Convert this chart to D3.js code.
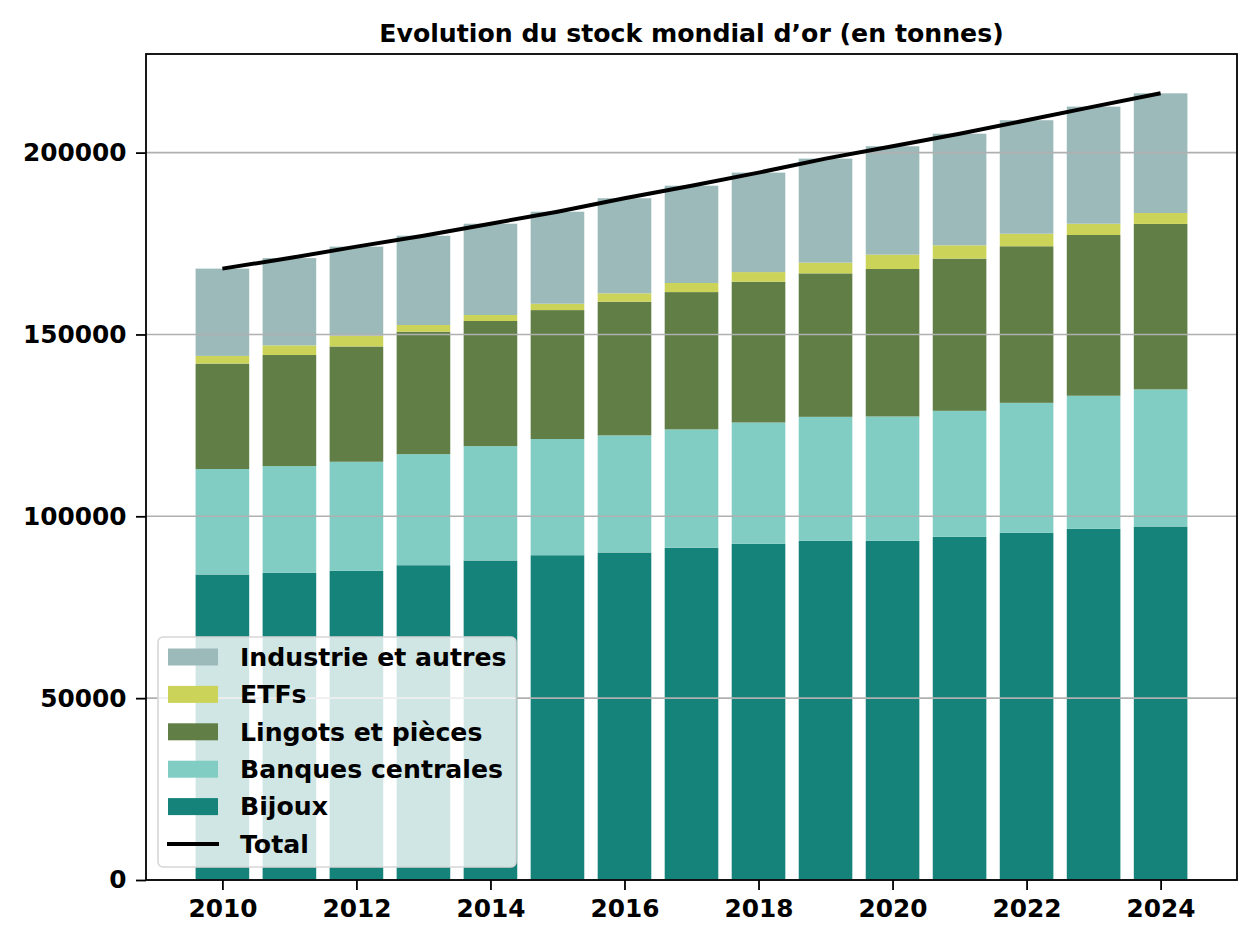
<!DOCTYPE html>
<html>
<head>
<meta charset="utf-8">
<script src="https://cdn.jsdelivr.net/npm/d3@7"></script>
<style>
  body { margin: 0; background: #fff; }
  text { font-family: "DejaVu Sans", sans-serif; font-weight: bold; }
</style>
</head>
<body>
<div id="chart"></div>
<script>
// Data (tonnes)
const years = [2010, 2011, 2012, 2013, 2014, 2015, 2016, 2017, 2018, 2019, 2020, 2021, 2022, 2023, 2024];
const bijoux = [84000, 84450, 85000, 86550, 87850, 89300, 90050, 91350, 92450, 93250, 93250, 94350, 95450, 96550, 97200];
const banques = [29000, 29350, 30000, 30550, 31450, 31950, 32200, 32550, 33350, 34100, 34200, 34650, 35750, 36600, 37700];
const lingots = [29000, 30550, 31700, 33650, 34400, 35450, 36750, 37750, 38700, 39450, 40550, 41850, 43050, 44200, 45500];
const etfs = [2100, 2650, 2950, 1850, 1650, 1750, 2300, 2500, 2650, 2950, 3950, 3650, 3450, 3100, 3000];
const industrie = [24000, 24000, 24500, 24550, 25100, 25300, 26150, 26750, 27350, 28600, 29800, 30700, 31200, 32200, 32900];
const seriesNames = ["Bijoux", "Banques centrales", "Lingots et pièces", "ETFs", "Industrie et autres"];
const seriesColors = ["#16837a", "#82cdc3", "#607e46", "#cbd459", "#9dbaba"];
const yTicks = [0, 50000, 100000, 150000, 200000];

const width = 1260, height = 945;
const marginTop = 54, marginRight = 23, marginBottom = 65, marginLeft = 146;

const table = years.map((y, i) => ({
  year: y,
  "Bijoux": bijoux[i],
  "Banques centrales": banques[i],
  "Lingots et pièces": lingots[i],
  "ETFs": etfs[i],
  "Industrie et autres": industrie[i]
}));
const totals = table.map(d => seriesNames.reduce((s, k) => s + d[k], 0));

const stack = d3.stack().keys(seriesNames)(table);

const barW = 0.8;
const span = (years[years.length - 1] + barW / 2) - (years[0] - barW / 2);
const x = d3.scaleLinear()
  .domain([years[0] - barW / 2 - 0.05 * span, years[years.length - 1] + barW / 2 + 0.05 * span])
  .range([marginLeft, width - marginRight]);
const y = d3.scaleLinear()
  .domain([0, d3.max(totals) * 1.05])
  .range([height - marginBottom, marginTop]);

const svg = d3.select("#chart").append("svg")
  .attr("width", width)
  .attr("height", height);

// bars
const color = d3.scaleOrdinal(seriesNames, seriesColors);
svg.append("g").selectAll("g")
  .data(stack)
  .join("g")
  .attr("fill", d => color(d.key))
  .selectAll("rect")
  .data(d => d)
  .join("rect")
  .attr("x", d => x(d.data.year - barW / 2))
  .attr("width", x(barW) - x(0))
  .attr("y", d => y(d[1]))
  .attr("height", d => y(d[0]) - y(d[1]));

// grid (drawn over the bars, like the reference)
svg.append("g").selectAll("line")
  .data(yTicks)
  .join("line")
  .attr("x1", marginLeft).attr("x2", width - marginRight)
  .attr("y1", d => y(d)).attr("y2", d => y(d))
  .attr("stroke", "#b0b0b0")
  .attr("stroke-width", 1.6);

// total line
svg.append("path")
  .datum(years.map((yr, i) => [yr, totals[i]]))
  .attr("fill", "none")
  .attr("stroke", "#000")
  .attr("stroke-width", 4)
  .attr("d", d3.line().x(d => x(d[0])).y(d => y(d[1])));

// axes
const xAxis = svg.append("g")
  .attr("transform", `translate(0,${height - marginBottom})`)
  .call(d3.axisBottom(x).tickValues(d3.range(2010, 2025, 2)).tickFormat(d3.format("d")).tickSize(10).tickPadding(9.6));
const yAxis = svg.append("g")
  .attr("transform", `translate(${marginLeft},0)`)
  .call(d3.axisLeft(y).tickValues(yTicks).tickFormat(d3.format("d")).tickSize(10).tickPadding(9.6));
[xAxis, yAxis].forEach(a => {
  a.select(".domain").remove();
  a.selectAll(".tick line").attr("stroke", "#000").attr("stroke-width", 1.8);
  a.selectAll(".tick text").attr("fill", "#000").style("font-size", "24.8px").style("font-family", "DejaVu Sans").style("font-weight", "bold");
});

// frame
svg.append("rect")
  .attr("x", marginLeft).attr("y", marginTop)
  .attr("width", width - marginLeft - marginRight)
  .attr("height", height - marginTop - marginBottom)
  .attr("fill", "none")
  .attr("stroke", "#000")
  .attr("stroke-width", 1.8);

// title
svg.append("text")
  .attr("x", (marginLeft + width - marginRight) / 2)
  .attr("y", 42)
  .attr("text-anchor", "middle")
  .style("font-size", "25.2px")
  .text("Evolution du stock mondial d’or (en tonnes)");

// legend
const legendItems = seriesNames.slice().reverse().map(n => ({ name: n, type: "patch" }))
  .concat([{ name: "Total", type: "line" }]);
const legend = svg.append("g").attr("transform", "translate(158,637)");
legend.append("rect")
  .attr("width", 358).attr("height", 230)
  .attr("rx", 5)
  .attr("fill", "#fff").attr("fill-opacity", 0.8)
  .attr("stroke", "#d6d6d6").attr("stroke-width", 1.6);
const item = legend.selectAll("g.item")
  .data(legendItems)
  .join("g")
  .attr("class", "item")
  .attr("transform", (d, i) => `translate(0,${20 + i * 37.4})`);
item.filter(d => d.type === "patch").append("rect")
  .attr("x", 10).attr("y", -8.5)
  .attr("width", 50).attr("height", 17)
  .attr("fill", d => color(d.name));
item.filter(d => d.type === "line").append("line")
  .attr("x1", 9).attr("x2", 61)
  .attr("stroke", "#000").attr("stroke-width", 4);
item.append("text")
  .attr("x", 82).attr("dy", "0.35em")
  .style("font-size", "25.2px")
  .text(d => d.name);
</script>
</body>
</html>
